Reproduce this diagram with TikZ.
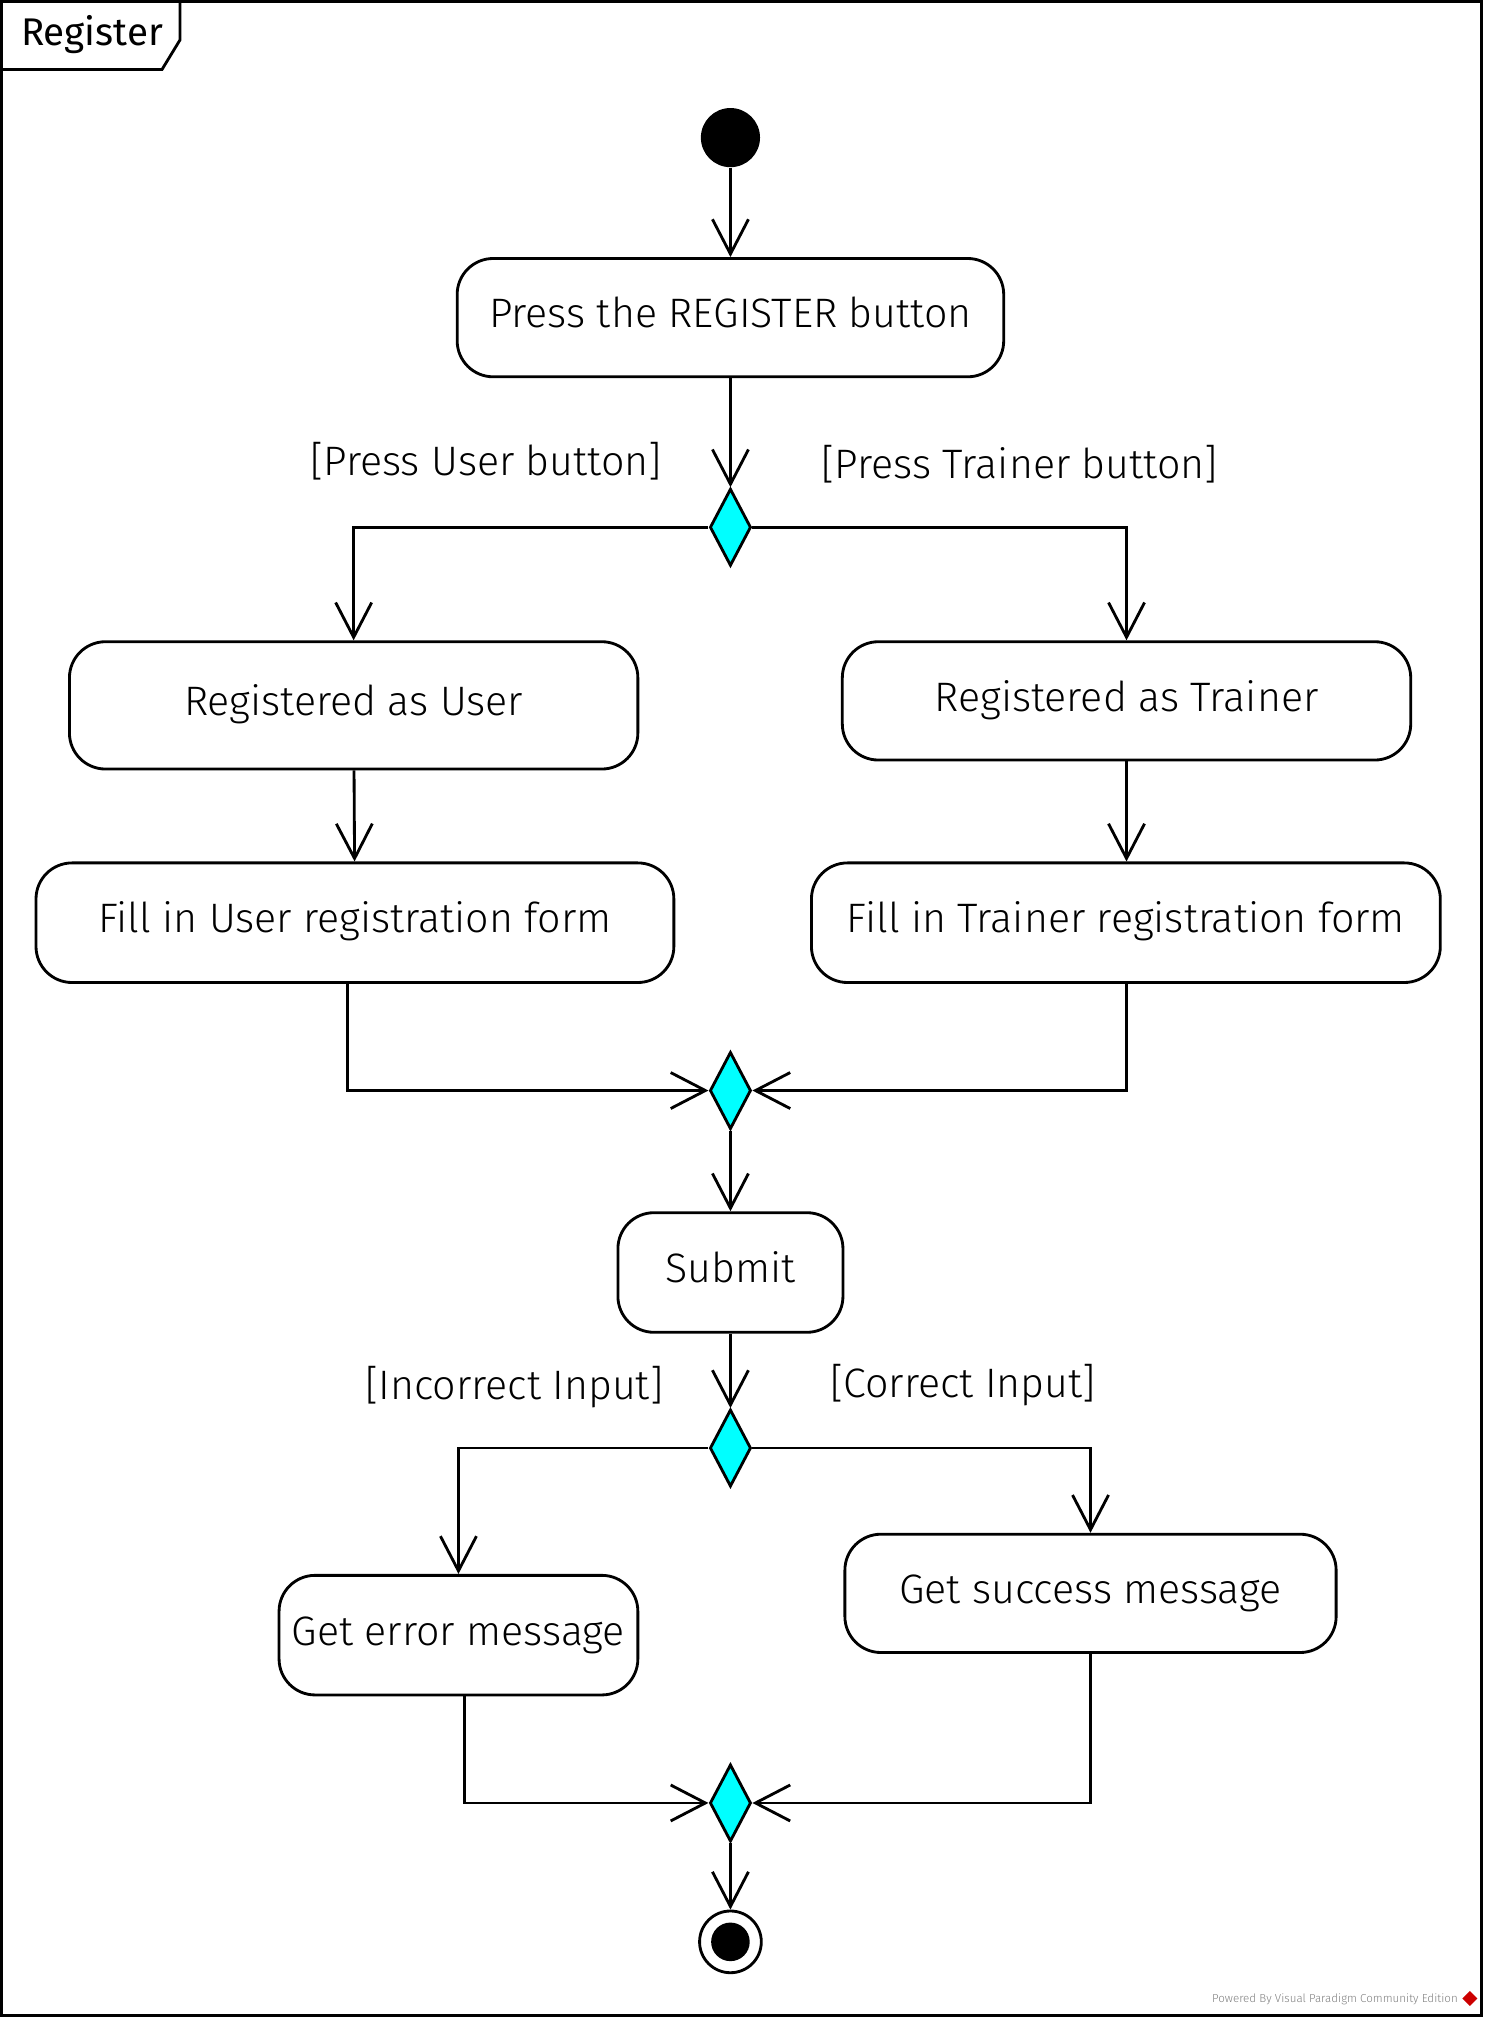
\documentclass[tikz,border=0pt]{standalone}
\usepackage{fontspec}
\setmainfont{Fira Sans Light}
\newfontfamily\titlefont{Fira Sans}
\usetikzlibrary{arrows.meta,shapes.geometric}

\definecolor{aqua}{RGB}{0,255,255}
\tikzset{
    act/.style={draw, rounded corners=14pt, line width=1.1pt,
        inner sep=0pt, text height=12pt, text depth=4pt,
        font=\fontsize{16}{19}\selectfont},
    branch/.style={draw, diamond, fill=aqua, line width=1.1pt,
        minimum width=16pt, minimum height=30pt, inner sep=0pt},
    guard/.style={font=\fontsize{16}{19}\selectfont},
    flow/.style={line width=1.1pt,
        -{Straight Barb[length=13.5pt,width=14pt]}},
}

\begin{document}
\begin{tikzpicture}[x=0.5pt, y=-0.5pt]
\useasboundingbox (0,0) rectangle (1155,1570);
% frame
\draw[line width=1.1pt] (1,1) rectangle (1152,1567);
\draw[line width=1.1pt] (1,54) -- (126,54) -- (140,31) -- (140,1);
\node[anchor=west, inner sep=0pt, font=\titlefont\fontsize{15}{18}\selectfont] (title) at (16,27) {Register};
% nodes
\node[circle, fill, minimum size=23pt, inner sep=0pt] (start) at (568,107) {};
\node[act, minimum width=212.5pt, minimum height=46pt] (press) at (568,247) {Press the REGISTER button};
\node[branch] (role) at (568,410) {};
\node[guard] (gUser) at (378,359) {[Press User button]};
\node[guard] (gTrainer) at (793,361) {[Press Trainer button]};
\node[act, minimum width=221pt, minimum height=49.5pt] (asUser) at (275,548.5) {Registered as User};
\node[act, minimum width=221pt, minimum height=46pt] (asTrainer) at (876,545) {Registered as Trainer};
\node[act, minimum width=248pt, minimum height=46.5pt] (fillUser) at (276,717.5) {Fill in User registration form};
\node[act, minimum width=244.5pt, minimum height=46.5pt] (fillTrainer) at (875.5,717.5) {Fill in Trainer registration form};
\node[branch] (formMerge) at (568,848) {};
\node[act, minimum width=87.5pt, minimum height=46.5pt] (submit) at (568,989.5) {Submit};
\node[branch] (check) at (568,1126) {};
\node[guard] (gWrong) at (400,1079) {[Incorrect Input]};
\node[guard] (gRight) at (749,1077) {[Correct Input]};
\node[act, minimum width=139.5pt, minimum height=46.5pt] (errMsg) at (356.5,1271.5) {Get error message};
\node[act, minimum width=191pt, minimum height=46pt] (okMsg) at (848,1239) {Get success message};
\node[branch] (endMerge) at (568,1402) {};
\node[circle, draw, line width=1.1pt, minimum size=24pt, inner sep=0pt] (stop) at (568,1510) {};
\node[circle, fill, minimum size=15pt, inner sep=0pt] (stopDot) at (stop) {};
% connectors
\draw[flow] (start) -- (press);
\draw[flow] (press) -- (role);
\draw[flow] (role.west) -| (asUser.north);
\draw[flow] (role.east) -| (asTrainer.north);
\draw[flow] (asUser) -- (fillUser);
\draw[flow] (asTrainer) -- (asTrainer |- fillTrainer.north);
\draw[flow] ([xshift=-3pt]fillUser.south) |- (formMerge.west);
\draw[flow] (fillTrainer.south -| asTrainer) |- (formMerge.east);
\draw[flow] (formMerge) -- (submit);
\draw[flow] (submit) -- (check);
\draw[flow] (check.west) -| (errMsg.north);
\draw[flow] (check.east) -| (okMsg.north);
\draw[flow] ([xshift=2.5pt]errMsg.south) |- (endMerge.west);
\draw[flow] (okMsg.south) |- (endMerge.east);
\draw[flow] (endMerge) -- (stop);
% footer
\node[anchor=east, inner sep=0pt, text=gray, font=\fontsize{4.5}{5}\selectfont] (credit) at (1134,1555) {Powered By Visual Paradigm Community Edition};
\node[diamond, fill=red!80!black, minimum size=6pt, inner sep=0pt] (logo) at (1143,1554) {};
\end{tikzpicture}
\end{document}
